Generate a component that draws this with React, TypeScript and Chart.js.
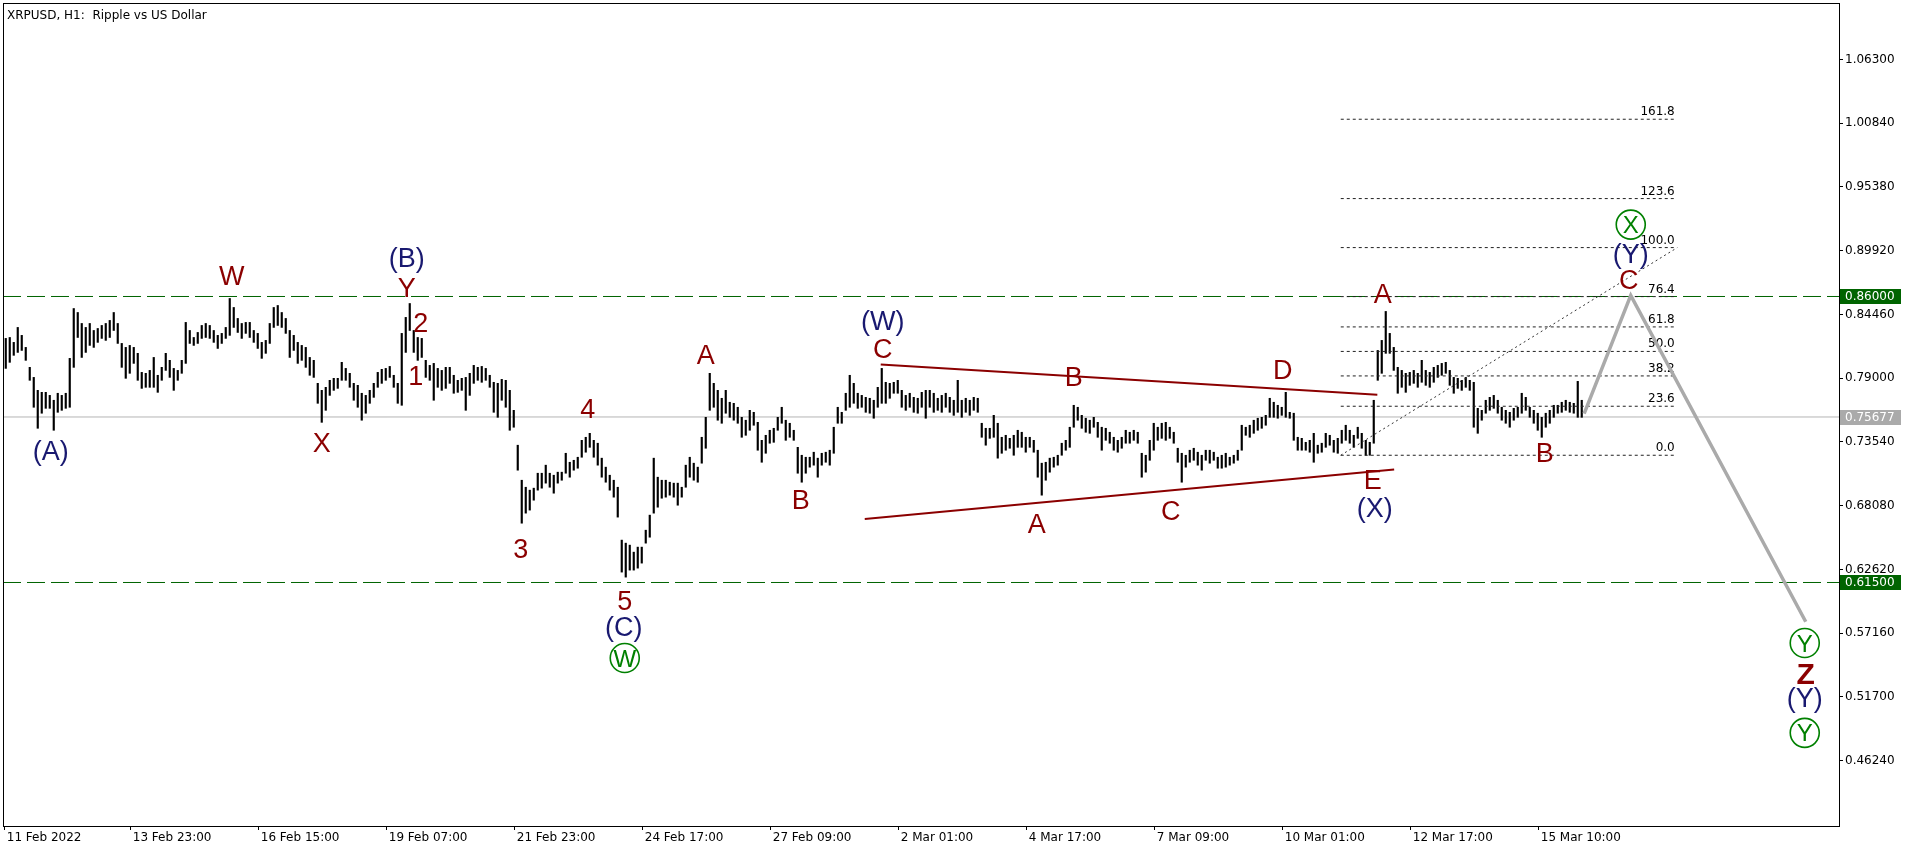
import React, { useEffect, useRef } from "react";
import { Chart, registerables } from "chart.js";

Chart.register(...registerables);

// ---------------- data ----------------
// XRPUSD price bars at 2-hour resolution.
// Prices are stored in 1/10000 USD.
const PRICE_SCALE = 10000;
const HOURS_PER_BAR = 2;

const barHighs = [
  8241, 8249, 8207, 8335, 8267, 8164, 7993, 7907, 7796, 7779,
  7779, 7753, 7711, 7771, 7753, 7771, 8070, 8497, 8463, 8369,
  8335, 8369, 8309, 8326, 8352, 8369, 8395, 8463, 8369, 8198,
  8164, 8181, 8164, 8113, 7950, 7942, 7967, 8078, 7925, 7993,
  8113, 8053, 7984, 7967, 8053, 8378, 8309, 8249, 8292, 8352,
  8369, 8352, 8309, 8267, 8284, 8335, 8583, 8506, 8412, 8369,
  8378, 8378, 8309, 8284, 8207, 8224, 8369, 8506, 8523, 8463,
  8412, 8309, 8267, 8207, 8181, 8164, 8078, 8053, 7856, 7796,
  7822, 7882, 7899, 7899, 8036, 7984, 7942, 7856, 7839, 7771,
  7753, 7796, 7856, 7950, 7976, 7984, 8001, 7925, 7856, 8284,
  8421, 8540, 8309, 8249, 8241, 8053, 8010, 8027, 7984, 7967,
  7993, 7993, 7925, 7882, 7899, 7907, 7942, 8010, 7993, 8001,
  7984, 7925, 7865, 7856, 7890, 7882, 7796, 7625, 7326, 7026,
  6966, 6941, 6958, 7086, 7086, 7155, 7086, 7069, 7095, 7095,
  7257, 7180, 7197, 7223, 7368, 7394, 7428, 7368, 7343, 7215,
  7138, 7069, 7026, 6966, 6513, 6487, 6470, 6410, 6453, 6453,
  6598, 6727, 7215, 7052, 7026, 7026, 7009, 7001, 7001, 6966,
  7155, 7223, 7172, 7138, 7394, 7565, 7942, 7856, 7796, 7728,
  7796, 7694, 7685, 7651, 7565, 7540, 7625, 7608, 7522, 7368,
  7411, 7454, 7471, 7565, 7651, 7540, 7514, 7454, 7308, 7240,
  7223, 7223, 7266, 7215, 7257, 7266, 7283, 7480, 7651, 7608,
  7771, 7925, 7856, 7771, 7753, 7736, 7728, 7711, 7822, 7984,
  7865, 7856, 7865, 7882, 7796, 7753, 7771, 7736, 7728, 7779,
  7796, 7796, 7771, 7728, 7753, 7771, 7736, 7711, 7882, 7711,
  7728, 7711, 7736, 7728, 7514, 7471, 7471, 7582, 7514, 7394,
  7411, 7385, 7411, 7454, 7437, 7394, 7394, 7368, 7283, 7172,
  7180, 7215, 7223, 7240, 7343, 7368, 7480, 7668, 7651, 7582,
  7557, 7540, 7565, 7522, 7480, 7471, 7437, 7394, 7368, 7394,
  7454, 7437, 7454, 7437, 7257, 7240, 7368, 7514, 7480, 7514,
  7522, 7480, 7437, 7300, 7257, 7240, 7283, 7300, 7266, 7240,
  7283, 7283, 7266, 7223, 7240, 7257, 7223, 7240, 7283, 7497,
  7480, 7497, 7540, 7557, 7565, 7582, 7728, 7694, 7668, 7651,
  7779, 7608, 7600, 7394, 7385, 7351, 7368, 7428, 7326, 7343,
  7428, 7411, 7368, 7385, 7454, 7497, 7454, 7411, 7480, 7428,
  7368, 7351, 7711, 8138, 8224, 8472, 8284, 8164, 7993, 7967,
  7942, 7950, 7967, 7942, 8053, 7967, 7950, 7993, 8010, 8027,
  8036, 7967, 7907, 7899, 7882, 7907, 7882, 7865, 7642, 7625,
  7711, 7736, 7753, 7711, 7651, 7625, 7608, 7642, 7651, 7771,
  7736, 7651, 7625, 7600, 7565, 7600, 7625, 7668, 7668, 7694,
  7711, 7694, 7685, 7873, 7711,
];

const barLows = [
  7984, 8036, 8096, 8121, 8138, 8053, 7882, 7651, 7471, 7600,
  7642, 7642, 7454, 7608, 7625, 7642, 7651, 7993, 8249, 8078,
  8121, 8181, 8164, 8207, 8241, 8224, 8249, 8309, 8198, 7993,
  7899, 7942, 8027, 7882, 7813, 7822, 7822, 7822, 7779, 7882,
  7967, 7907, 7796, 7882, 7942, 8027, 8198, 8181, 8198, 8241,
  8249, 8241, 8207, 8155, 8198, 8241, 8267, 8335, 8292, 8241,
  8284, 8249, 8207, 8155, 8070, 8113, 8198, 8335, 8352, 8335,
  8284, 8078, 8138, 8027, 8053, 7993, 7925, 7907, 7685, 7522,
  7625, 7753, 7796, 7813, 7882, 7882, 7822, 7711, 7651, 7540,
  7600, 7685, 7736, 7822, 7856, 7882, 7907, 7822, 7685, 7668,
  8121, 8309, 8121, 8053, 8078, 7907, 7882, 7711, 7822, 7796,
  7813, 7856, 7771, 7779, 7796, 7625, 7753, 7856, 7882, 7865,
  7882, 7822, 7608, 7565, 7711, 7651, 7454, 7480, 7112, 6658,
  6744, 6770, 6855, 6941, 6958, 7001, 6966, 6915, 7001, 7026,
  7086, 7052, 7112, 7129, 7223, 7266, 7308, 7223, 7155, 7052,
  7009, 6941, 6881, 6710, 6239, 6196, 6256, 6256, 6273, 6316,
  6487, 6538, 6744, 6795, 6872, 6881, 6898, 6881, 6812, 6881,
  6966, 7052, 7026, 7009, 7172, 7300, 7625, 7651, 7540, 7514,
  7600, 7565, 7540, 7514, 7394, 7411, 7454, 7497, 7283, 7180,
  7257, 7343, 7351, 7454, 7514, 7368, 7394, 7368, 7086, 7009,
  7086, 7138, 7155, 7052, 7155, 7180, 7155, 7257, 7514, 7514,
  7625, 7651, 7685, 7642, 7651, 7608, 7600, 7557, 7651, 7685,
  7685, 7728, 7771, 7771, 7651, 7625, 7651, 7608, 7600, 7651,
  7557, 7651, 7608, 7625, 7608, 7651, 7608, 7582, 7608, 7565,
  7608, 7582, 7625, 7608, 7394, 7326, 7385, 7394, 7215, 7257,
  7283, 7300, 7240, 7308, 7308, 7266, 7308, 7266, 7052, 6898,
  7026, 7095, 7138, 7155, 7240, 7283, 7308, 7480, 7540, 7471,
  7437, 7428, 7480, 7394, 7283, 7368, 7343, 7283, 7266, 7300,
  7343, 7343, 7368, 7343, 7052, 7095, 7197, 7283, 7368, 7385,
  7368, 7385, 7343, 7180, 7009, 7138, 7180, 7197, 7155, 7112,
  7197, 7172, 7197, 7129, 7129, 7138, 7155, 7172, 7197, 7283,
  7411, 7394, 7428, 7454, 7471, 7497, 7565, 7565, 7557, 7582,
  7565, 7557, 7368, 7283, 7283, 7283, 7266, 7180, 7257, 7266,
  7308, 7326, 7266, 7257, 7343, 7368, 7343, 7308, 7385, 7300,
  7240, 7240, 7343, 7882, 7942, 8113, 8113, 7967, 7771, 7822,
  7779, 7839, 7856, 7822, 7865, 7839, 7822, 7865, 7907, 7925,
  7942, 7839, 7771, 7813, 7796, 7822, 7796, 7480, 7428, 7540,
  7600, 7625, 7642, 7600, 7540, 7514, 7480, 7540, 7565, 7600,
  7625, 7565, 7514, 7454, 7394, 7480, 7514, 7565, 7600, 7608,
  7625, 7608, 7600, 7565, 7565,
];

// time axis (hours from the first bar)
const timeTickHours = [0, 63, 127, 191, 255, 319, 383, 447, 511, 575, 639, 703, 767];
const timeTickLabels = [
  "11 Feb 2022", "13 Feb 23:00", "16 Feb 15:00", "19 Feb 07:00", "21 Feb 23:00",
  "24 Feb 17:00", "27 Feb 09:00", "2 Mar 01:00", "4 Mar 17:00", "7 Mar 09:00",
  "10 Mar 01:00", "12 Mar 17:00", "15 Mar 10:00",
];
const HOUR_MIN = -0.875;
const HOUR_MAX = 917.125;

// price axis
const priceTicks = [0.4624, 0.517, 0.5716, 0.6262, 0.6808, 0.7354, 0.79, 0.8446, 0.8992, 0.9538, 1.0084, 1.063];
const PRICE_MIN = 0.4064;
const PRICE_MAX = 1.11142;

// horizontal levels
const lastPrice = 0.75677;
const resistanceLevel = 0.86;
const supportLevel = 0.615;

// triangle
const triUpperHours = [438, 686.3];
const triUpperPrices = [0.8018, 0.7759];
const triLowerHours = [430, 694.7];
const triLowerPrices = [0.6693, 0.7118];

// fibonacci tool
const fibRatios = [0, 23.6, 38.2, 50, 61.8, 76.4, 100, 123.6, 161.8];
const fibAnchorHours = [668, 836.3];
const fibAnchorPrices = [0.724, 0.9019];
const fibLevelEndHour = 834.5;

// forecast path
const forecastHours = [789.7, 813, 900.5];
const forecastPrices = [0.7597, 0.8609, 0.5814];

// wave labels
const waveTexts = [
  "(A)", "W", "X", "(B)", "Y", "2", "1", "3", "4", "5", "(C)", "W",
  "A", "B", "(W)", "C", "A", "B", "C", "D", "E", "(X)",
  "A", "B", "C", "(Y)", "X", "Y", "Z", "(Y)", "Y",
];
const waveKinds = [
  "inter", "minor", "minor", "inter", "minor", "minor", "minor", "minor", "minor", "minor", "inter", "circle",
  "minor", "minor", "inter", "minor", "minor", "minor", "minor", "minor", "minor", "inter",
  "minor", "minor", "minor", "inter", "circle", "circle", "major", "inter", "circle",
];
const waveHours = [
  23, 113.5, 158.5, 201, 201, 208, 205.5, 258, 291.5, 310, 309.5, 310,
  350.5, 398, 439, 439, 516, 534.5, 583, 639, 684, 685,
  689, 770, 812, 813, 813, 900, 900.5, 900, 900,
];
const wavePrices = [
  0.7257, 0.878, 0.7351, 0.891, 0.8677, 0.8378, 0.7924, 0.6444, 0.7642, 0.5999, 0.5751, 0.5503,
  0.8104, 0.6863, 0.8369, 0.8155, 0.6658, 0.7916, 0.6769, 0.7976, 0.7035, 0.6769,
  0.8626, 0.7266, 0.8746, 0.8951, 0.9216, 0.5632, 0.5375, 0.5144, 0.4862,
];

// ---------------- styles ----------------
const RED = "#8B0000";
const BLUE = "#191970";
const GREEN = "#008000";
const LEVEL_GREEN = "#006400";
const AXIS_FONT = '"DejaVu Sans"';
const LABEL_FONT = '"Liberation Sans"';

function lineDataset(xs: number[], ys: number[], color: string, width: number, dash: number[], order: number) {
  return {
    type: "line",
    data: xs.map((x, i) => ({ x, y: ys[i] })),
    borderColor: color,
    borderWidth: width,
    borderDash: dash,
    pointRadius: 0,
    pointHoverRadius: 0,
    fill: false,
    tension: 0,
    order,
  };
}

const overlayPlugin = {
  id: "overlay",
  beforeDatasetsDraw(chart: any) {
    const { ctx, scales } = chart;
    const x = scales.x;
    const y = scales.y;
    ctx.save();
    ctx.font = `12px ${AXIS_FONT}`;
    ctx.fillStyle = "#000";
    ctx.textAlign = "right";
    ctx.textBaseline = "alphabetic";
    const xr = x.getPixelForValue(fibLevelEndHour) + 1;
    fibRatios.forEach((r) => {
      const p = fibAnchorPrices[0] + ((fibAnchorPrices[1] - fibAnchorPrices[0]) * r) / 100;
      ctx.fillText(r.toFixed(1), xr, y.getPixelForValue(p) - 4);
    });
    ctx.restore();
  },
  afterDatasetsDraw(chart: any) {
    const { ctx, scales } = chart;
    const x = scales.x;
    const y = scales.y;
    ctx.save();
    ctx.textAlign = "center";
    ctx.textBaseline = "alphabetic";
    waveTexts.forEach((t, i) => {
      const px = x.getPixelForValue(waveHours[i]);
      const py = y.getPixelForValue(wavePrices[i]);
      const kind = waveKinds[i];
      if (kind === "circle") {
        ctx.strokeStyle = GREEN;
        ctx.lineWidth = 1.6;
        ctx.beginPath();
        ctx.arc(px, py, 14.5, 0, Math.PI * 2);
        ctx.stroke();
        ctx.font = `24px ${LABEL_FONT}`;
        ctx.fillStyle = GREEN;
        ctx.fillText(t, px, py + 0.358 * 24);
      } else {
        const size = kind === "major" ? 30 : 27;
        ctx.font = `${kind === "major" ? "bold " : ""}${size}px ${LABEL_FONT}`;
        ctx.fillStyle = kind === "inter" ? BLUE : RED;
        const off = t.startsWith("(") ? 0.26 * size : 0.358 * size;
        ctx.fillText(t, px, py + off);
      }
    });
    ctx.restore();
  },
  afterDraw(chart: any) {
    const { ctx, chartArea, scales } = chart;
    const y = scales.y;
    ctx.save();
    // frame
    ctx.strokeStyle = "#000";
    ctx.lineWidth = 1;
    ctx.strokeRect(chartArea.left + 0.5, chartArea.top + 0.5, chartArea.right - chartArea.left, chartArea.bottom - chartArea.top);
    // price boxes on the axis
    const boxes: [number, string][] = [
      [resistanceLevel, LEVEL_GREEN],
      [lastPrice, "#aaaaaa"],
      [supportLevel, LEVEL_GREEN],
    ];
    ctx.font = `12px ${AXIS_FONT}`;
    ctx.textAlign = "left";
    ctx.textBaseline = "middle";
    boxes.forEach(([p, bg]) => {
      const py = y.getPixelForValue(p);
      ctx.fillStyle = bg;
      ctx.fillRect(chartArea.right + 1, Math.round(py) - 7, 61, 15);
      ctx.fillStyle = "#fff";
      ctx.fillText(p.toFixed(5), chartArea.right + 6, Math.round(py) + 0.5);
    });
    // title
    ctx.fillStyle = "#000";
    ctx.textBaseline = "alphabetic";
    ctx.fillText("XRPUSD, H1:  Ripple vs US Dollar", 7, 19);
    ctx.restore();
  },
};

export default function App() {
  const ref = useRef<HTMLCanvasElement>(null);

  useEffect(() => {
    document.body.style.margin = "0";
    const canvas = ref.current;
    if (!canvas) return;

    const bars = barHighs.map((h, k) => ({
      x: k * HOURS_PER_BAR + 0.5,
      y: [barLows[k] / PRICE_SCALE, h / PRICE_SCALE],
    }));

    const fibDatasets = fibRatios.map((r) => {
      const p = fibAnchorPrices[0] + ((fibAnchorPrices[1] - fibAnchorPrices[0]) * r) / 100;
      return lineDataset([fibAnchorHours[0], fibLevelEndHour], [p, p], "#222", 1, [3, 3], 3);
    });

    const chart = new Chart(canvas, {
      type: "bar",
      data: {
        datasets: [
          lineDataset([HOUR_MIN, HOUR_MAX], [lastPrice, lastPrice], "#b4b4b4", 1, [], 6),
          {
            type: "bar",
            data: bars,
            backgroundColor: "#000",
            borderWidth: 0,
            barThickness: 1.5,
            order: 5,
          },
          lineDataset([HOUR_MIN, HOUR_MAX], [resistanceLevel, resistanceLevel], LEVEL_GREEN, 1, [18, 6], 4),
          lineDataset([HOUR_MIN, HOUR_MAX], [supportLevel, supportLevel], LEVEL_GREEN, 1, [18, 6], 4),
          lineDataset(triUpperHours, triUpperPrices, RED, 2, [], 3),
          lineDataset(triLowerHours, triLowerPrices, RED, 2, [], 3),
          ...fibDatasets,
          lineDataset(fibAnchorHours, fibAnchorPrices, "#333", 1, [2, 3], 3),
          lineDataset(forecastHours, forecastPrices, "#aaaaaa", 3.5, [], 1),
        ] as any,
      },
      options: {
        responsive: false,
        animation: false,
        events: [],
        layout: { padding: { left: 3, top: 3, right: 0, bottom: 0 } },
        plugins: {
          legend: { display: false },
          tooltip: { enabled: false },
          title: { display: false },
        },
        scales: {
          x: {
            type: "linear",
            position: "bottom",
            min: HOUR_MIN,
            max: HOUR_MAX,
            offset: false,
            grid: { display: true, drawOnChartArea: false, drawTicks: true, tickLength: 4, color: "#000", offset: false },
            border: { display: false },
            afterBuildTicks: (s: any) => {
              s.ticks = timeTickHours.map((v) => ({ value: v }));
            },
            afterFit: (s: any) => {
              s.height = 26;
              s.paddingLeft = 0;
              s.paddingRight = 0;
            },
            ticks: {
              autoSkip: false,
              maxRotation: 0,
              minRotation: 0,
              align: "start",
              labelOffset: 2,
              padding: 1,
              color: "#000",
              font: { family: AXIS_FONT, size: 12 },
              callback: (v: any) => {
                const i = timeTickHours.indexOf(Number(v));
                return i >= 0 ? timeTickLabels[i] : "";
              },
            },
          },
          y: {
            type: "linear",
            position: "right",
            min: PRICE_MIN,
            max: PRICE_MAX,
            beginAtZero: false,
            grid: { display: true, drawOnChartArea: false, drawTicks: true, tickLength: 4, color: "#000" },
            border: { display: false },
            afterBuildTicks: (s: any) => {
              s.ticks = priceTicks.map((v) => ({ value: v }));
            },
            afterFit: (s: any) => {
              s.width = 77;
              s.paddingTop = 0;
              s.paddingBottom = 0;
            },
            ticks: {
              autoSkip: false,
              padding: 2,
              color: "#000",
              font: { family: AXIS_FONT, size: 12 },
              callback: (v: any) => Number(v).toFixed(5),
            },
          },
        },
      } as any,
      plugins: [overlayPlugin as any],
    });

    return () => chart.destroy();
  }, []);

  return (
    <div style={{ width: 1916, height: 852, position: "relative", background: "#fff" }}>
      <canvas ref={ref} width={1916} height={852} style={{ position: "absolute", left: 0, top: 0, display: "block" }} />
    </div>
  );
}
